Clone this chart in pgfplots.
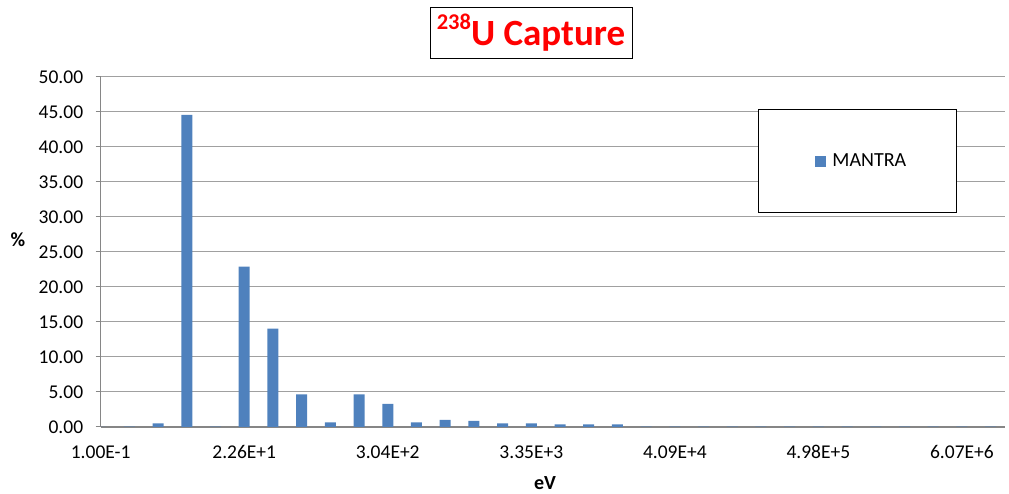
\documentclass[border=0pt]{standalone}
\usepackage{fontspec}
\setmainfont{Carlito}
\usepackage{pgfplots}
\pgfplotsset{compat=1.18}
\definecolor{barblue}{HTML}{4F81BD}
\definecolor{axgray}{HTML}{868686}
\definecolor{gridgray}{HTML}{A0A0A0}
\begin{document}
\begin{tikzpicture}
\useasboundingbox (-100.7pt,-67pt) rectangle (908.3pt,427pt);
\begin{axis}[
  at={(0pt,0pt)}, anchor=south west,
  scale only axis, width=904.3pt, height=350pt,
  xmin=0, xmax=31.5, ymin=0, ymax=50,
  axis lines*=left,
  axis line style={draw=axgray, line width=1.5pt},
  ybar, bar width=11pt,
  xtick={0,5,10,15,20,25,30},
  xticklabels={1.00E-1,2.26E+1,3.04E+2,3.35E+3,4.09E+4,4.98E+5,6.07E+6},
  ytick={0,5,...,50},
  tick align=outside, major tick length=5pt,
  xtick style={draw=none},
  ytick style={draw=axgray, line width=1pt},
  ymajorgrids,
  major grid style={draw=gridgray, line width=1pt},
  /pgf/number format/assume math mode=true,
  yticklabel style={xshift=-9pt, /pgf/number format/.cd, fixed, fixed zerofill, precision=2},
  xticklabel style={yshift=-10pt},
  ticklabel style={font=\fontsize{19.5}{22}\selectfont, text=black},
  xlabel={eV}, ylabel={\%},
  label style={font=\fontsize{20}{24}\selectfont\bfseries},
  xlabel style={at={(rel axis cs:0.4913,-0.16)}, anchor=center},
  ylabel style={at={(rel axis cs:-0.0915,0.534)}, rotate=-90, anchor=center},
  legend style={at={(rel axis cs:0.7269,0.9086)}, anchor=north west, draw=black, line width=0.8pt,
    inner xsep=48pt, inner ysep=42.5pt, font=\fontsize{20}{24}\selectfont},
  legend image code/.code={\path (0pt,0pt) (24pt,0pt); \fill[barblue] (9pt,-5.5pt) rectangle (20pt,5.5pt);},
]
\addplot[fill=barblue, draw=none] coordinates {
(0,0.02) (1,0.05) (2,0.52) (3,44.6) (4,0.05) (5,22.9) (6,14.04) (7,4.67)
(8,0.67) (9,4.67) (10,3.29) (11,0.67) (12,1.0) (13,0.86) (14,0.52) (15,0.52)
(16,0.38) (17,0.38) (18,0.38) (19,0.05) (20,0.05) (21,0.05) (22,0.05) (23,0.05)
(24,0.05) (25,0.05) (26,0.05) (27,0.05) (28,0.05) (29,0.05) (30,0.05) (31,0.05)
};
\addlegendentry{MANTRA}
\end{axis}
\node[draw=black, line width=0.8pt, minimum width=202pt, minimum height=51pt, inner sep=0pt,
  text=red, font=\fontsize{37}{40}\selectfont\bfseries] at (430.3pt,394.5pt)
  {\raisebox{0.42em}{\fontsize{22.5}{22}\selectfont 238}U Capture};
\end{tikzpicture}
\end{document}
